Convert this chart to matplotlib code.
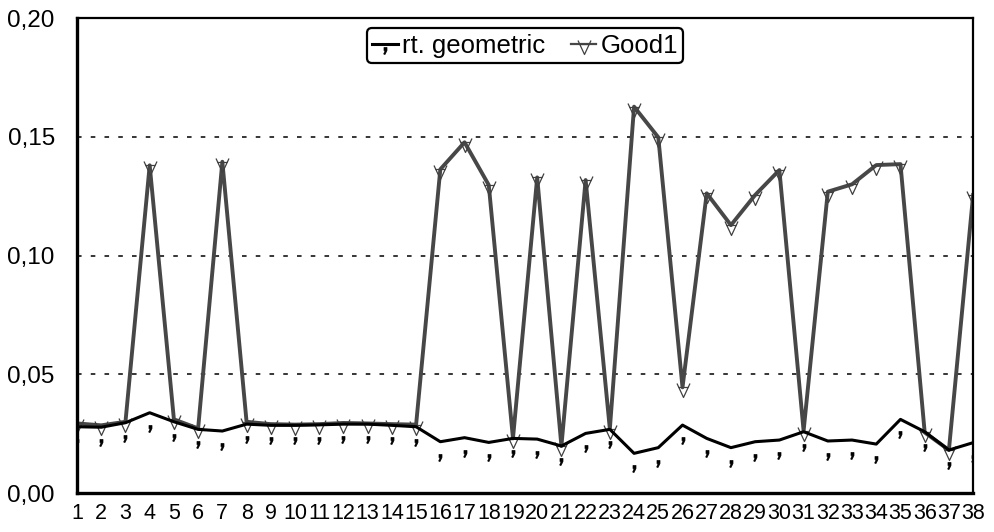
import matplotlib
matplotlib.use('Agg')
import matplotlib.pyplot as plt
from matplotlib.path import Path
from matplotlib.lines import Line2D
import numpy as np

# data
idx = list(range(1, 39))
rt_geometric = [0.0279, 0.0277, 0.0296, 0.0338, 0.0300, 0.0268, 0.0261, 0.0290, 0.0285, 0.0285,
                0.0287, 0.0290, 0.0290, 0.0285, 0.0279, 0.0216, 0.0233, 0.0213, 0.0230, 0.0227,
                0.0198, 0.0251, 0.0268, 0.0167, 0.0191, 0.0286, 0.0230, 0.0191, 0.0216, 0.0223,
                0.0258, 0.0219, 0.0223, 0.0206, 0.0310, 0.0258, 0.0181, 0.0212]
good1 = [0.0293, 0.0285, 0.0300, 0.1380, 0.0310, 0.0272, 0.1395, 0.0300, 0.0290, 0.0288,
         0.0290, 0.0295, 0.0293, 0.0290, 0.0288, 0.1363, 0.1477, 0.1297, 0.0230, 0.1329,
         0.0198, 0.1318, 0.0270, 0.1627, 0.1498, 0.0445, 0.1262, 0.1128, 0.1255, 0.1360,
         0.0262, 0.1269, 0.1300, 0.1381, 0.1385, 0.0255, 0.0181, 0.1255]
yticks = [0.0, 0.05, 0.10, 0.15, 0.20]
ytick_labels = ['0,00', '0,05', '0,10', '0,15', '0,20']

plt.rcParams['font.family'] = ['Liberation Sans', 'DejaVu Sans']

# marker shapes (pixel-ish units, hanging below the point like in the scan)
tri = Path([(-6.5, 4), (0, -10), (6.5, 4), (-4.6, 0), (4.6, 0)],
           [Path.MOVETO, Path.LINETO, Path.LINETO, Path.MOVETO, Path.LINETO])
comma = Path([(-1.5, -12), (1.5, -12), (1.5, -15), (-0.5, -19), (-1.8, -18.5),
              (-0.3, -15), (-1.5, -15), (-1.5, -12)], closed=True)
# smaller offset for the legend key
comma_key = Path([(-1.5, -3), (1.5, -3), (1.5, -6), (-0.5, -10), (-1.8, -9.5),
                  (-0.3, -6), (-1.5, -6), (-1.5, -3)], closed=True)

fig = plt.figure(figsize=(9.94, 5.32), dpi=100)
ax = fig.add_axes([0.0775, 0.0733, 0.9015, 0.8927])

ax.plot(idx, rt_geometric, color='black', lw=2.2, marker=comma, ms=27.4,
        mfc='black', mec='black', mew=0.5, zorder=3)
ax.plot(idx, good1, color='#474747', lw=2.8, marker=tri, ms=14.4,
        mfc='none', mec='#404040', mew=0.9, zorder=2)

ax.set_xlim(1, 38)
ax.set_ylim(0, 0.2)
ax.set_yticks(yticks)
ax.set_yticklabels(ytick_labels)
ax.set_xticks(idx)
ax.set_xticklabels([str(i) for i in idx])
ax.tick_params(axis='y', length=0, labelsize=17.5, pad=16)
ax.tick_params(axis='x', length=0, labelsize=15.5, pad=7)

for y in yticks[1:-1]:
    ax.axhline(y, color='black', lw=1.1, ls=(0, (3, 6)), zorder=1)

for s in ['left', 'bottom']:
    ax.spines[s].set_linewidth(2.4)
for s in ['top', 'right']:
    ax.spines[s].set_linewidth(1.6)

keys = [Line2D([], [], color='black', lw=2.2, marker=comma_key, ms=14.4,
               mfc='black', mec='black', mew=0.5),
        Line2D([], [], color='#474747', lw=1.6, marker=tri, ms=14.4,
               mfc='none', mec='#404040', mew=0.9)]
leg = ax.legend(keys, ['rt. geometric', 'Good1'], loc='upper center',
                bbox_to_anchor=(0.5, 0.979), ncol=2, fontsize=18.5,
                handlelength=1.0, handletextpad=0.15, columnspacing=1.0,
                borderpad=0.22, borderaxespad=0, fancybox=True, framealpha=1,
                edgecolor='black')
leg.get_frame().set_linewidth(1.6)

fig.savefig('out.png', dpi=100)
